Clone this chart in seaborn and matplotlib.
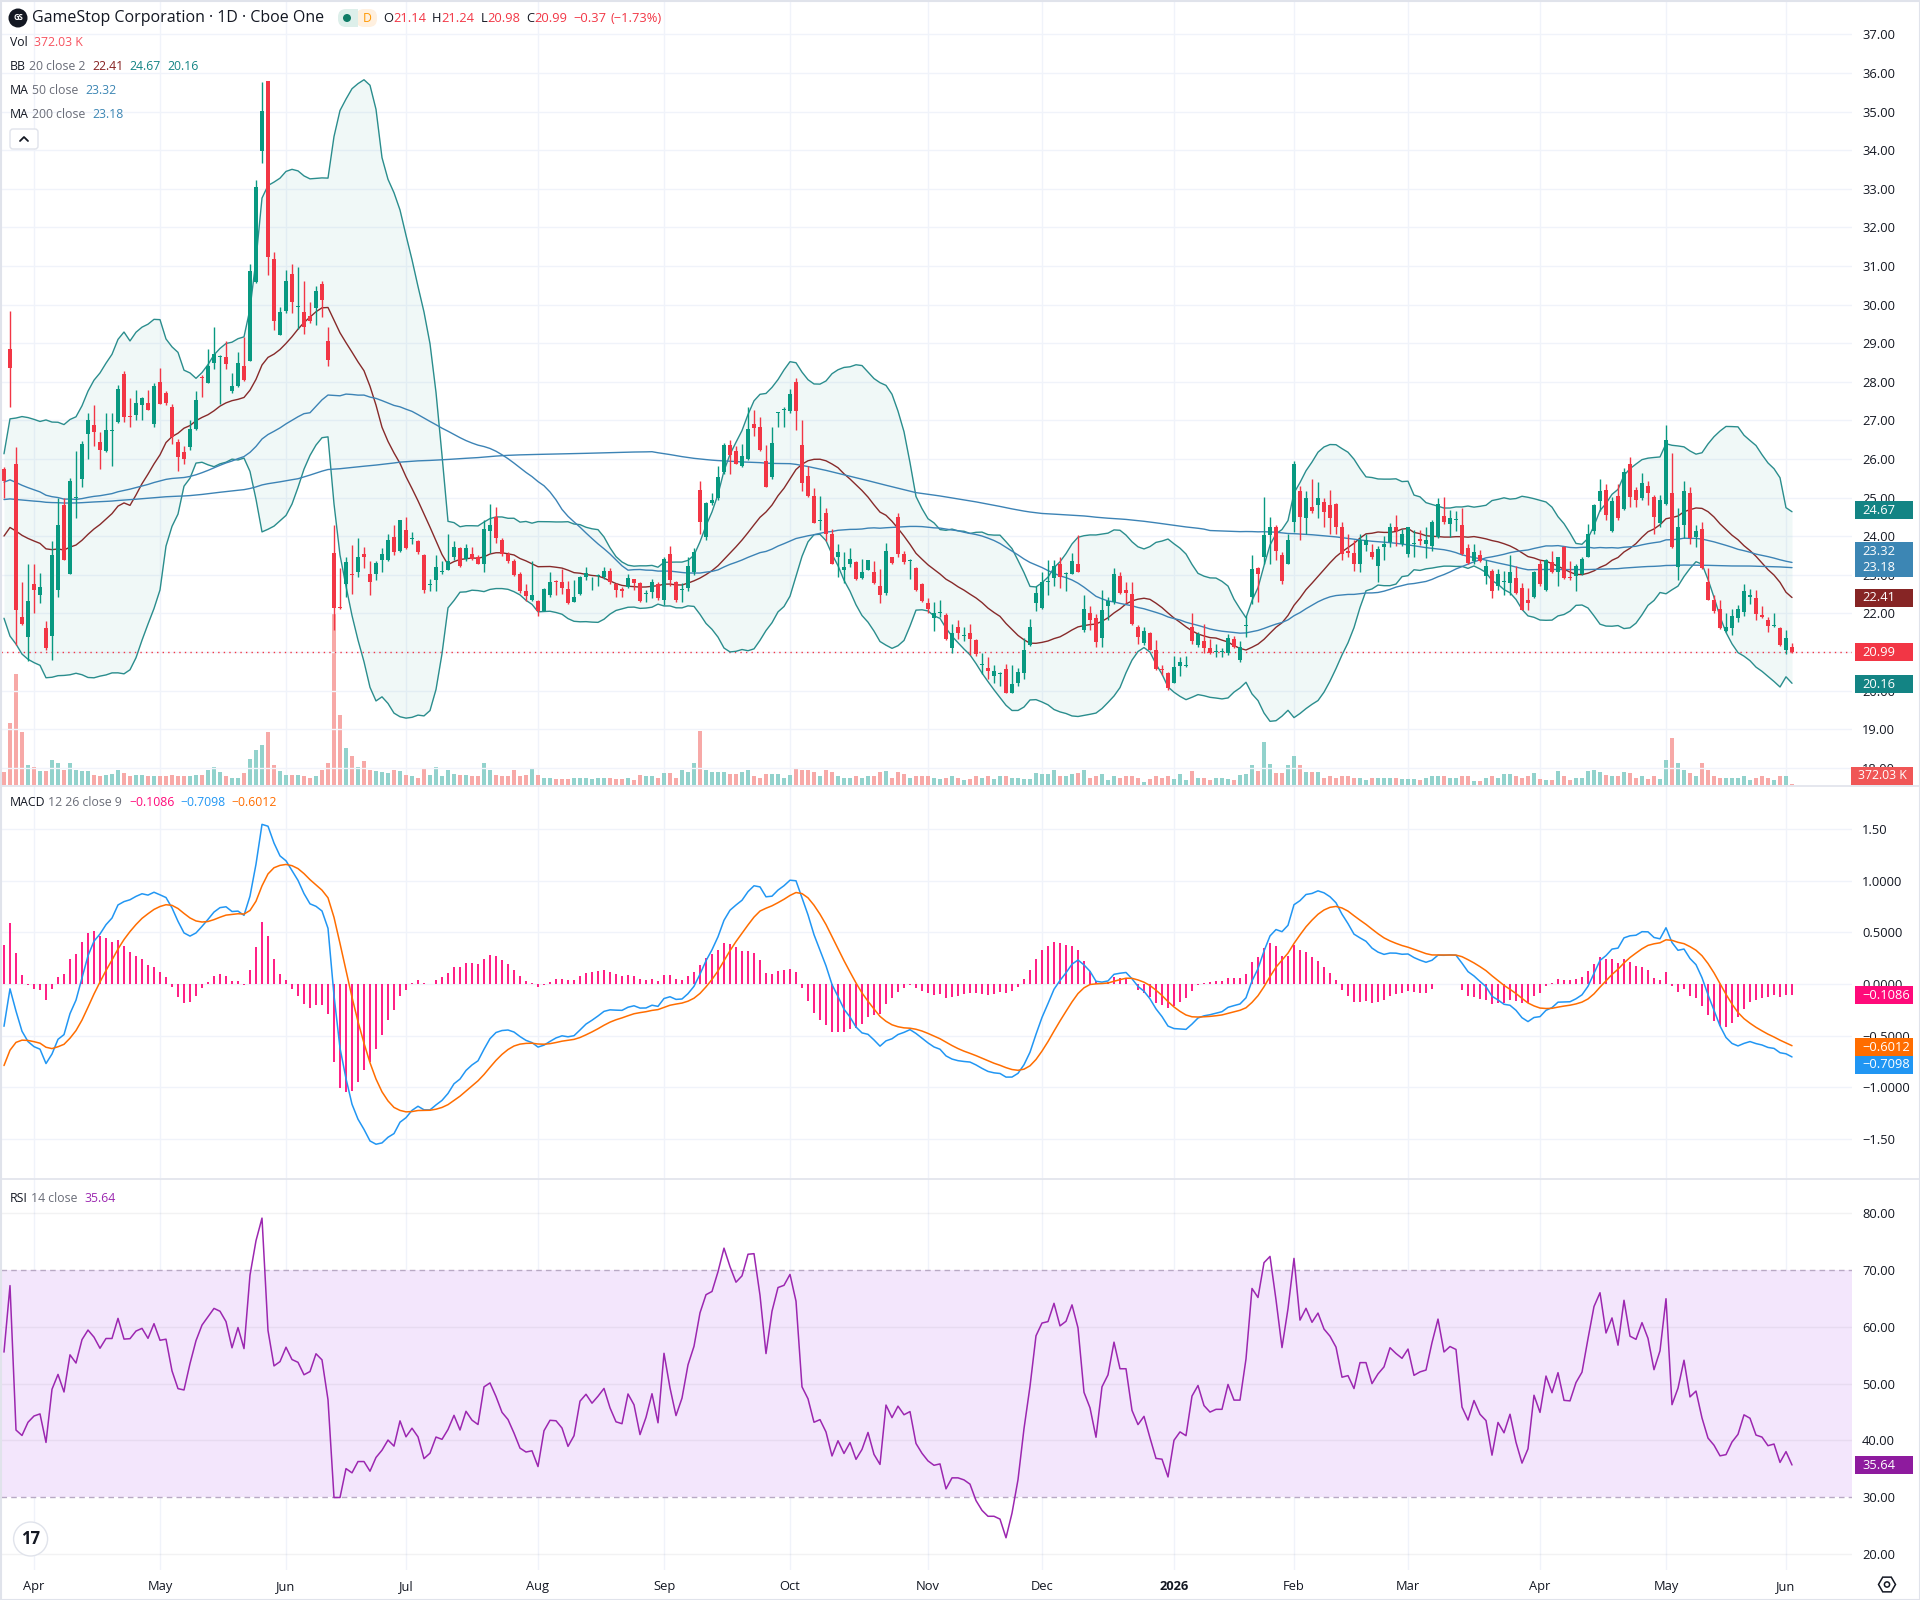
import numpy as np
import pandas as pd
import matplotlib
matplotlib.use("Agg")
import matplotlib.pyplot as plt
from matplotlib.patches import Rectangle, Circle, FancyBboxPatch, RegularPolygon
from matplotlib.lines import Line2D
from matplotlib.transforms import IdentityTransform
import seaborn as sns

# ---------------------------------------------------------------- data
# daily OHLC (GME, Cboe One), 2025-03-25 .. 2026-06-02
opens = [
    25.73, 28.84, 25.88, 21.90, 21.38, 22.76, 22.48, 21.61, 21.42, 22.60,
    24.80, 23.02, 25.00, 25.49, 26.66, 26.88, 26.43, 26.22, 26.72, 26.96,
    28.20, 27.12, 27.15, 27.40, 27.45, 26.90, 27.99, 27.72, 27.35, 26.43,
    26.18, 26.30, 26.78, 28.13, 27.98, 28.48, 28.63, 28.63, 27.76, 27.90,
    28.41, 28.54, 30.59, 33.99, 35.80, 31.18, 29.20, 29.83, 30.80, 29.93,
    29.80, 29.71, 29.92, 30.53, 29.05,
    23.57, 22.16, 22.76, 23.03, 23.08, 23.53, 23.02, 23.02, 23.39, 23.39,
    23.99, 23.63, 24.17, 23.93, 23.87, 23.51, 22.73, 22.87, 23.07, 23.12,
    23.45, 23.69, 23.41, 23.54, 23.47, 23.29, 24.14, 24.49, 23.89, 23.54,
    23.35, 23.02, 22.58, 22.34, 22.33, 22.06, 22.48, 22.84, 22.82, 22.64,
    22.30, 22.51, 22.94, 22.88, 22.98, 22.94, 23.11, 22.75, 22.64, 22.69,
    22.88, 22.78, 22.50,
    22.55, 22.75, 22.34, 23.53, 22.81, 22.60, 22.66, 23.08, 25.19, 23.99,
    24.86, 24.99, 25.67, 26.36, 26.22, 25.83, 26.00, 26.92, 26.84, 25.94,
    25.53, 27.20, 27.28, 27.24, 28.00, 26.36, 25.55, 25.04, 24.39, 24.59,
    24.07, 23.47, 23.12, 23.27, 23.33, 22.93, 23.12, 23.08, 22.70, 22.54,
    23.45, 24.51, 23.53, 23.37, 23.18, 22.76, 22.27, 21.88, 22.01, 21.96,
    21.10, 21.66, 21.42, 21.49,
    21.30, 20.66, 20.58, 20.37, 20.43, 20.55, 19.95, 20.19, 20.46, 21.18,
    22.27, 22.14, 22.82, 22.93, 23.27, 23.01, 23.02, 23.27, 21.58, 22.02,
    21.88, 21.37, 22.18, 22.30, 22.96, 22.60, 22.51, 21.66, 21.24, 21.49,
    21.04, 20.55, 20.46, 20.19, 20.65, 20.64, 21.66, 21.18, 21.28, 21.10,
    21.00, 21.01, 20.98, 21.34, 20.80, 21.68, 22.42, 23.17, 23.47, 24.02,
    24.25, 23.51, 23.29,
    24.37, 25.17, 24.47, 24.75, 24.81, 24.89, 24.80, 24.83, 24.23, 23.63,
    23.57, 23.27, 23.77, 23.59, 23.23, 23.71, 23.84, 24.23, 23.81, 23.54,
    23.79, 23.93, 23.81, 23.74, 23.99, 24.53, 24.31, 24.41, 24.29, 23.69,
    23.37, 23.51, 22.96, 23.11, 22.72, 22.81, 22.78, 22.93, 22.66, 22.36,
    22.42, 23.29, 22.60, 23.33, 23.08, 23.72, 22.94, 22.96, 23.02, 23.45,
    24.13, 24.92, 25.19,
    24.14, 25.04, 24.71, 25.86, 25.19, 24.99, 25.31, 25.01, 24.33, 24.83,
    25.13, 23.20, 24.29, 25.13, 23.99, 24.19, 22.81, 22.34, 22.12, 21.54,
    21.61, 21.88, 22.04, 22.42, 22.40, 21.96, 21.82, 21.68, 21.61, 21.04,
    21.14,
]
highs = [
    25.80, 29.83, 26.30, 22.82, 23.29, 23.27, 23.04, 21.80, 23.87, 25.00,
    25.00, 25.50, 26.20, 26.46, 27.20, 27.39, 26.70, 27.20, 27.18, 27.93,
    28.27, 27.57, 27.80, 27.60, 27.80, 27.96, 28.35, 27.75, 27.42, 26.52,
    26.34, 27.00, 27.75, 28.17, 28.84, 29.41, 28.69, 29.05, 28.24, 28.77,
    29.17, 31.04, 33.23, 35.76, 35.80, 31.37, 29.95, 30.89, 31.04, 30.98,
    30.61, 30.07, 30.49, 30.61, 29.41,
    24.29, 23.17, 23.47, 23.77, 23.95, 23.71, 23.35, 23.36, 23.69, 24.07,
    24.29, 24.41, 24.51, 24.11, 23.89, 23.53, 22.90, 23.51, 23.35, 24.07,
    23.87, 23.71, 23.81, 23.72, 23.51, 24.41, 24.83, 24.77, 23.95, 23.59,
    23.41, 23.08, 22.75, 23.35, 22.36, 22.66, 23.08, 22.87, 23.14, 22.84,
    22.87, 22.96, 23.20, 22.94, 23.02, 23.20, 23.18, 22.78, 22.69, 23.02,
    22.90, 22.82, 22.60,
    22.90, 22.82, 23.45, 23.75, 22.84, 22.78, 23.47, 23.69, 25.43, 24.89,
    25.13, 25.82, 26.42, 26.48, 26.34, 26.40, 27.36, 27.27, 27.08, 26.36,
    26.82, 27.22, 27.36, 27.81, 28.11, 27.00, 25.82, 25.25, 25.04, 24.73,
    24.19, 23.81, 23.60, 23.69, 23.35, 23.41, 23.39, 23.35, 23.14, 23.83,
    23.45, 24.59, 23.63, 23.42, 23.20, 22.78, 22.39, 22.30, 22.36, 22.00,
    21.73, 21.82, 21.64, 21.73,
    21.34, 20.98, 20.86, 20.67, 20.49, 20.70, 20.67, 20.58, 21.36, 21.86,
    22.72, 23.08, 23.38, 23.38, 23.47, 23.08, 23.57, 24.02, 22.48, 22.18,
    21.98, 22.60, 22.42, 23.18, 23.08, 22.82, 22.81, 21.69, 21.64, 21.52,
    21.30, 20.67, 20.48, 20.89, 20.86, 20.89, 22.02, 21.52, 21.73, 21.34,
    21.22, 21.10, 21.46, 21.42, 21.28, 21.94, 23.51, 23.20, 25.01, 24.51,
    24.29, 23.59, 24.05,
    25.95, 25.31, 25.17, 25.49, 25.41, 24.98, 25.19, 24.86, 24.37, 24.07,
    23.89, 24.05, 24.05, 23.81, 23.75, 24.01, 24.35, 24.55, 24.19, 24.25,
    24.17, 24.17, 24.23, 24.41, 24.99, 25.01, 24.69, 24.65, 24.73, 23.81,
    23.81, 23.65, 23.39, 23.14, 23.14, 23.11, 23.51, 23.23, 22.78, 22.66,
    23.11, 23.39, 23.41, 23.63, 23.47, 23.75, 23.36, 23.27, 23.45, 24.31,
    24.83, 25.49, 25.35,
    25.01, 25.35, 25.76, 26.04, 25.28, 25.65, 25.43, 25.07, 25.07, 26.88,
    26.15, 24.73, 25.43, 25.28, 24.29, 24.37, 23.18, 22.48, 22.36, 22.02,
    22.12, 22.22, 22.75, 22.63, 22.60, 22.18, 21.90, 22.00, 21.66, 21.58,
    21.24,
]
lows = [
    25.00, 27.36, 21.18, 21.70, 20.76, 22.00, 22.27, 21.06, 20.80, 22.42,
    23.39, 23.02, 24.47, 25.28, 26.00, 26.34, 25.73, 26.18, 25.82, 26.94,
    26.96, 26.84, 27.02, 27.00, 27.28, 26.82, 27.42, 27.40, 26.40, 25.70,
    25.86, 26.24, 26.76, 27.60, 27.98, 28.33, 27.42, 28.33, 27.72, 27.87,
    28.02, 28.53, 30.55, 33.66, 30.77, 29.35, 29.20, 29.77, 29.77, 29.37,
    29.25, 29.53, 29.47, 29.67, 28.42,
    21.58, 22.12, 22.42, 22.50, 22.94, 23.17, 22.48, 22.87, 23.08, 23.35,
    23.51, 23.59, 23.66, 23.81, 23.53, 22.54, 22.58, 22.57, 23.02, 23.12,
    23.39, 23.20, 23.35, 23.39, 23.27, 23.08, 23.57, 23.83, 23.50, 23.30,
    22.96, 22.54, 22.33, 22.33, 21.94, 22.06, 22.42, 22.48, 22.51, 22.24,
    22.30, 22.48, 22.87, 22.60, 22.70, 22.90, 22.75, 22.42, 22.42, 22.66,
    22.60, 22.30, 22.30,
    22.39, 22.36, 22.22, 22.72, 22.30, 22.30, 22.58, 22.99, 24.05, 23.90,
    24.80, 24.95, 25.61, 25.61, 25.86, 25.80, 25.98, 26.60, 26.22, 25.28,
    25.47, 26.82, 26.82, 27.18, 26.76, 25.16, 25.01, 24.33, 24.17, 23.87,
    23.27, 22.94, 22.78, 23.20, 22.87, 22.90, 23.12, 22.75, 22.27, 22.48,
    23.27, 23.47, 23.27, 22.90, 22.58, 22.30, 22.00, 21.54, 21.90, 21.30,
    20.98, 21.34, 21.28, 20.92,
    20.89, 20.43, 20.31, 20.19, 20.13, 19.93, 19.93, 20.13, 20.31, 21.16,
    22.06, 22.12, 22.48, 22.72, 22.66, 22.57, 23.02, 23.08, 21.52, 21.58,
    21.13, 21.13, 21.82, 22.24, 22.51, 22.27, 21.70, 21.22, 21.18, 21.04,
    20.53, 20.41, 20.01, 20.19, 20.37, 20.60, 21.22, 21.13, 20.98, 20.94,
    20.86, 20.86, 20.92, 21.10, 20.73, 21.40, 22.24, 22.30, 23.27, 23.27,
    23.39, 22.75, 23.27,
    24.11, 23.89, 24.05, 24.59, 24.47, 24.23, 24.05, 24.05, 23.39, 23.47,
    23.11, 23.08, 23.63, 23.41, 22.82, 23.39, 23.71, 23.75, 23.75, 23.45,
    23.47, 23.78, 23.44, 23.63, 23.95, 24.31, 23.99, 24.14, 23.51, 23.27,
    23.27, 23.33, 22.75, 22.39, 22.60, 22.48, 22.48, 22.51, 22.08, 22.08,
    22.39, 22.72, 22.57, 23.05, 22.72, 22.90, 22.87, 22.57, 22.99, 23.45,
    24.07, 24.65, 24.41,
    24.11, 24.41, 24.69, 24.77, 24.77, 24.93, 24.80, 24.05, 24.23, 24.80,
    23.69, 22.87, 23.95, 23.81, 23.72, 23.14, 22.34, 22.00, 21.59, 21.52,
    21.45, 21.78, 21.94, 22.24, 21.84, 21.88, 21.51, 21.66, 21.16, 20.94,
    20.98,
]
closes = [
    25.43, 28.36, 22.08, 21.72, 22.32, 22.60, 22.69, 21.10, 23.51, 24.29,
    23.39, 25.42, 25.02, 26.40, 27.00, 26.70, 26.24, 26.76, 26.76, 27.81,
    27.08, 27.10, 27.45, 27.57, 27.28, 27.88, 27.42, 27.46, 26.58, 26.04,
    26.00, 26.78, 27.54, 28.10, 28.41, 28.72, 28.66, 28.45, 27.90, 28.50,
    28.05, 30.88, 33.05, 35.01, 31.22, 29.57, 29.81, 30.61, 30.07, 29.95,
    29.43, 29.57, 30.35, 30.13, 28.57,
    22.14, 22.14, 23.33, 23.00, 23.45, 23.45, 22.82, 23.30, 23.55, 23.89,
    23.59, 24.41, 23.69, 23.96, 23.59, 22.60, 22.75, 23.19, 23.10, 23.35,
    23.71, 23.23, 23.69, 23.42, 23.29, 24.19, 24.29, 23.95, 23.54, 23.35,
    22.99, 22.57, 22.46, 22.48, 22.06, 22.64, 22.82, 22.81, 22.66, 22.27,
    22.42, 22.94, 23.05, 22.90, 23.00, 23.11, 22.82, 22.60, 22.57, 22.93,
    22.78, 22.33, 22.53,
    22.82, 22.39, 23.42, 22.87, 22.36, 22.64, 23.23, 23.60, 24.37, 24.86,
    24.95, 25.53, 26.36, 26.10, 25.88, 26.07, 26.78, 26.80, 26.24, 25.28,
    26.42, 27.22, 27.30, 27.69, 27.24, 25.37, 25.04, 24.35, 24.41, 24.05,
    23.29, 23.60, 23.20, 23.41, 22.90, 23.08, 23.39, 22.78, 22.48, 23.63,
    23.30, 23.54, 23.33, 23.39, 22.60, 22.33, 22.12, 22.00, 22.02, 21.34,
    21.49, 21.49, 21.44, 21.34,
    20.94, 20.68, 20.52, 20.52, 20.45, 19.95, 20.17, 20.49, 21.06, 21.64,
    22.54, 22.81, 22.84, 23.23, 22.94, 23.03, 23.36, 23.08, 22.12, 21.84,
    21.25, 22.10, 22.33, 23.02, 22.54, 22.54, 21.72, 21.40, 21.54, 21.06,
    20.55, 20.53, 20.07, 20.61, 20.74, 20.66, 21.28, 21.46, 21.10, 20.98,
    21.02, 21.02, 21.36, 21.13, 21.13, 21.70, 23.14, 23.02, 24.02, 24.23,
    23.63, 22.84, 23.89,
    25.86, 24.51, 24.98, 24.65, 24.99, 24.63, 24.47, 24.23, 23.53, 23.57,
    23.27, 23.89, 23.89, 23.45, 23.66, 23.81, 24.23, 24.13, 24.05, 24.23,
    23.81, 23.87, 23.90, 24.37, 24.83, 24.37, 24.47, 24.43, 23.54, 23.30,
    23.59, 23.35, 23.24, 22.57, 23.02, 22.82, 23.08, 22.54, 22.08, 22.27,
    23.08, 22.75, 23.39, 23.08, 23.45, 22.93, 22.92, 23.23, 23.41, 24.05,
    24.80, 25.17, 24.55,
    24.92, 24.47, 25.67, 25.01, 24.95, 25.39, 25.11, 24.51, 24.95, 26.48,
    23.72, 24.23, 25.17, 23.95, 24.14, 23.17, 22.36, 22.06, 21.61, 21.64,
    21.94, 22.12, 22.58, 22.48, 21.98, 21.92, 21.67, 21.70, 21.18, 21.36,
    20.99,
]
# volume, millions of shares
volume_m = [
    3.5, 16.6, 29.8, 14.1, 5.4, 4.8, 3.8, 3.8, 6.6, 5.8,
    3.9, 5.8, 3.9, 3.8, 3.8, 2.6, 2.5, 2.8, 2.9, 3.9,
    3.1, 2.3, 2.6, 2.6, 2.3, 2.5, 2.3, 2.3, 2.6, 2.3,
    2.3, 2.3, 2.8, 2.6, 3.9, 4.8, 3.5, 2.3, 1.9, 1.9,
    3.1, 6.9, 9.5, 10.8, 14.1, 5.4, 3.8, 2.6, 2.6, 2.6,
    2.3, 1.9, 2.3, 4.1, 5.8,
    46.0, 18.8, 10.0, 7.9, 4.8, 6.4, 4.1, 3.8, 3.5, 3.1,
    3.9, 3.8, 2.6, 2.3, 2.0, 4.4, 2.6, 4.8, 2.3, 3.9,
    2.9, 2.6, 2.6, 2.5, 2.5, 5.8, 4.1, 2.6, 2.3, 2.5,
    3.9, 2.3, 2.6, 4.5, 2.6, 1.9, 1.9, 1.6, 1.6, 1.6,
    1.9, 1.9, 1.9, 1.6, 1.9, 1.9, 1.9, 1.6, 1.6, 1.9,
    1.3, 2.6, 2.3,
    2.3, 2.0, 3.3, 3.3, 1.9, 3.9, 3.5, 6.0, 14.4, 4.1,
    3.5, 3.5, 3.5, 2.9, 2.9, 3.5, 3.9, 2.5, 1.9, 2.9,
    2.9, 2.9, 2.0, 2.6, 4.5, 3.9, 3.9, 3.5, 2.5, 3.9,
    3.5, 2.3, 1.9, 2.0, 2.3, 2.0, 2.3, 2.3, 3.5, 3.8,
    1.9, 3.5, 2.9, 2.0, 2.3, 2.3, 2.3, 1.9, 1.6, 1.9,
    2.3, 1.9, 1.3, 1.6,
    2.3, 1.9, 2.3, 1.6, 2.3, 2.3, 1.9, 1.9, 1.6, 1.6,
    3.1, 2.9, 2.9, 3.9, 2.3, 2.3, 2.9, 3.1, 3.9, 1.9,
    2.3, 2.9, 1.3, 2.3, 1.9, 2.5, 2.3, 1.9, 0.8, 1.6,
    2.3, 1.9, 2.3, 1.6, 2.9, 1.3, 3.8, 1.9, 1.9, 1.3,
    1.9, 1.9, 1.6, 1.3, 2.6, 2.9, 5.4, 3.8, 11.6, 5.6,
    3.1, 3.1, 5.4,
    7.9, 5.4, 3.5, 3.5, 3.5, 2.0, 2.3, 1.9, 2.5, 2.3,
    1.9, 2.0, 1.3, 2.0, 2.0, 2.0, 1.9, 1.9, 1.6, 1.6,
    1.6, 1.3, 1.9, 2.3, 2.5, 2.3, 2.0, 1.9, 2.3, 2.3,
    1.0, 1.0, 2.0, 2.5, 2.0, 2.9, 2.9, 2.5, 2.0, 2.5,
    3.1, 1.6, 1.3, 1.3, 3.8, 2.5, 1.3, 2.0, 2.0, 3.8,
    3.9, 3.5, 2.6,
    2.3, 2.3, 3.5, 3.1, 2.0, 2.3, 1.6, 2.5, 1.6, 6.6,
    12.5, 5.8, 3.9, 3.1, 2.3, 5.8, 4.1, 2.5, 2.0, 2.0,
    2.0, 1.9, 2.3, 1.3, 2.0, 2.3, 1.9, 1.4, 2.3, 2.5,
    0.37203,
]

START_DATE = "2025-03-25"
HOLIDAYS = ["2025-04-18", "2025-05-26", "2025-06-19", "2025-07-04", "2025-09-01",
            "2025-11-27", "2025-12-25", "2026-01-01", "2026-01-19", "2026-02-16",
            "2026-04-03", "2026-05-25"]

# closes before the window are not on the chart: block levels (and their day counts)
# estimated so that the 200-day average follows the MA 200 line shown
WARMUP_LEVELS = [25.00, 24.84, 20.07, 21.54, 22.00, 27.84, 30.88, 26.44, 24.79]
WARMUP_DAYS = [26, 23, 17, 23, 19, 23, 21, 21, 26]

# indicator state at the first bar
MA50_START = 25.40
BB_MID_START = 23.93
BB_STD_START = 1.04
EMA12_START = 24.19
EMA26_START = 24.60
SIGNAL_START = -0.79
RSI_GAIN_START = 0.35
RSI_LOSS_START = 0.28

# last values as printed in the legends
LAST_VOL = "372.03 K"
LAST_BB = ["22.41", "24.67", "20.16"]
LAST_MA50, LAST_MA200 = "23.32", "23.18"
LAST_MACD = ["\u22120.1086", "\u22120.7098", "\u22120.6012"]   # hist, macd, signal
LAST_RSI = "35.64"

# ---------------------------------------------------------------- colours
UP, DOWN = "#089981", "#F23645"
VOL_UP, VOL_DOWN = "#92D2CC", "#F7A9A7"
BB_BAND, BB_MID = "#2A8D8D", "#872A2A"
MA_COL = "#3C83B5"
MACD_COL, SIG_COL, HIST_COL = "#2196F3", "#FF6D00", "#FF0A7A"
RSI_COL = "#9C27B0"
TEXT, MUTED = "#131722", "#6A6D78"
GRID = "#F0F3FA"
BORDER = "#E0E3EB"

o, h, l, c = (np.array(v) for v in (opens, highs, lows, closes))
vol = np.array(volume_m)
n = len(c)
x = np.arange(n)


def padded_sma(values, window, seed):
    out = np.empty(len(values))
    for t in range(len(values)):
        chunk = values[max(0, t - window + 1):t + 1]
        out[t] = (chunk.sum() + (window - len(chunk)) * seed) / window
    return out


def padded_bbands(values, window, seed_mid, seed_std, k=2.0):
    mid = padded_sma(values, window, seed_mid)
    std = np.empty(len(values))
    for t in range(len(values)):
        chunk = values[max(0, t - window + 1):t + 1]
        miss = window - len(chunk)
        var = ((chunk - mid[t]) ** 2).sum() + miss * (seed_std ** 2 + (seed_mid - mid[t]) ** 2)
        std[t] = np.sqrt(var / window)
    return mid, mid + k * std, mid - k * std


def ema_from(values, period, start):
    out = np.empty(len(values))
    out[0] = start
    a = 2.0 / (period + 1)
    for t in range(1, len(values)):
        out[t] = out[t - 1] + a * (values[t] - out[t - 1])
    return out


def rsi_from(values, period, g0, l0):
    out = np.empty(len(values))
    g, lo = g0, l0
    out[0] = 100 - 100 / (1 + g / lo)
    for t in range(1, len(values)):
        d = values[t] - values[t - 1]
        g = (g * (period - 1) + max(d, 0)) / period
        lo = (lo * (period - 1) + max(-d, 0)) / period
        out[t] = 100 - 100 / (1 + g / lo)
    return out


history = np.repeat(WARMUP_LEVELS, WARMUP_DAYS)
ma200 = pd.Series(np.concatenate([history, c])).rolling(200).mean().to_numpy()[len(history):]
ma50 = padded_sma(c, 50, MA50_START)
bb_mid, bb_up, bb_lo = padded_bbands(c, 20, BB_MID_START, BB_STD_START)
ema12 = ema_from(c, 12, EMA12_START)
ema26 = ema_from(c, 26, EMA26_START)
macd = ema12 - ema26
signal = np.empty(n)
signal[0] = SIGNAL_START
for t in range(1, n):
    signal[t] = signal[t - 1] + 0.2 * (macd[t] - signal[t - 1])
hist = macd - signal
rsi = rsi_from(c, 14, RSI_GAIN_START, RSI_LOSS_START)

dates = pd.date_range(START_DATE, periods=n, freq=pd.offsets.CustomBusinessDay(holidays=HOLIDAYS))
month_pos = [i for i in range(1, n) if dates[i].month != dates[i - 1].month]
month_lab = [str(dates[i].year) if dates[i].month == 1 else dates[i].strftime("%b") for i in month_pos]

# ---------------------------------------------------------------- figure
sns.set_theme(style="white")
plt.rcParams["font.family"] = ["Open Sans", "DejaVu Sans"]
plt.rcParams["axes.unicode_minus"] = True

W, H = 1920, 1600
fig = plt.figure(figsize=(W / 100, H / 100), dpi=100)
fig.patch.set_facecolor("white")
PLOT_L, PLOT_R = 1, 1852
XLIM = (-0.5, 308.0)
LABEL_SIZE = 9.3


def rect(y0, y1):
    return [PLOT_L / W, 1 - y1 / H, (PLOT_R - PLOT_L) / W, (y1 - y0) / H]


ax_v = fig.add_axes(rect(0, 785))
ax_p = fig.add_axes(rect(0, 785), sharex=ax_v)
ax_m = fig.add_axes(rect(786, 1178), sharex=ax_v)
ax_r = fig.add_axes(rect(1179, 1570), sharex=ax_v)
ax_p.patch.set_alpha(0)

for ax in (ax_v, ax_p, ax_m, ax_r):
    for s in ax.spines.values():
        s.set_visible(False)
    ax.tick_params(axis="x", bottom=False, labelbottom=False, length=0)
    ax.set_xlim(*XLIM)
for ax in (ax_v, ax_m, ax_r):
    for p in month_pos:
        ax.axvline(p, color=GRID, lw=1, zorder=0)

# volume
ax_v.set_ylim(0, 210.8)
ax_v.set_yticks([])
ax_v.bar(x, vol, width=0.82, color=np.where(c >= o, VOL_UP, VOL_DOWN), linewidth=0, zorder=1)

# price
ax_p.set_ylim(17.556, 37.89)
price_ticks = np.arange(18, 38)
for v in price_ticks:
    ax_p.axhline(v, color=GRID, lw=1, zorder=0)
ax_p.yaxis.tick_right()
ax_p.set_yticks(price_ticks)
ax_p.set_yticklabels([f"{v:.2f}" for v in price_ticks])
ax_p.tick_params(axis="y", length=0, pad=7.2, labelsize=LABEL_SIZE, labelcolor=TEXT)

ax_p.fill_between(x, bb_lo, bb_up, color="#22A094", alpha=0.065, lw=0, zorder=1)
for series, col in ((bb_up, BB_BAND), (bb_lo, BB_BAND), (bb_mid, BB_MID), (ma50, MA_COL), (ma200, MA_COL)):
    sns.lineplot(x=x, y=series, ax=ax_p, color=col, linewidth=1.0, zorder=3)

cols = np.where(c >= o, UP, DOWN)
ax_p.vlines(x, l, h, colors=cols, lw=1.0, zorder=4)
ax_p.bar(x, np.maximum(np.abs(c - o), 0.025), bottom=np.minimum(o, c), width=0.66,
         color=cols, linewidth=0, zorder=5)
ax_p.axhline(c[-1], color=DOWN, lw=1, ls=(0, (1, 3)), zorder=2)

# MACD
ax_m.set_ylim(-1.879, 1.917)
macd_ticks = [1.5, 1.0, 0.5, 0.0, -0.5, -1.0, -1.5]
macd_labels = ["1.50", "1.0000", "0.5000", "0.0000", "\u22120.5000", "\u22121.0000", "\u22121.50"]
for v in macd_ticks:
    ax_m.axhline(v, color=GRID, lw=1, zorder=0)
ax_m.yaxis.tick_right()
ax_m.set_yticks(macd_ticks)
ax_m.set_yticklabels(macd_labels)
ax_m.tick_params(axis="y", length=0, pad=7.2, labelsize=LABEL_SIZE, labelcolor=TEXT)
ax_m.vlines(x, 0, hist, colors=HIST_COL, lw=1.3, zorder=2)
sns.lineplot(x=x, y=macd, ax=ax_m, color=MACD_COL, linewidth=1.1, zorder=3)
sns.lineplot(x=x, y=signal, ax=ax_m, color=SIG_COL, linewidth=1.1, zorder=3)

# RSI
ax_r.set_ylim(17.18, 86.04)
ax_r.axhspan(30, 70, color="#F3E6FC", lw=0, zorder=0)
rsi_ticks = np.arange(20, 90, 10)
for v in rsi_ticks:
    if v in (30, 70):
        ax_r.axhline(v, color="#B8A9C4", lw=1, ls=(0, (4, 3)), zorder=1)
    else:
        ax_r.axhline(v, color="#2A2E39", alpha=0.06, lw=1, zorder=1)
ax_r.yaxis.tick_right()
ax_r.set_yticks(rsi_ticks)
ax_r.set_yticklabels([f"{v:.2f}" for v in rsi_ticks])
ax_r.tick_params(axis="y", length=0, pad=7.2, labelsize=LABEL_SIZE, labelcolor=TEXT)
sns.lineplot(x=x, y=rsi, ax=ax_r, color=RSI_COL, linewidth=1.1, zorder=3)

ax_r.set_xticks(month_pos)
ax_r.set_xticklabels(month_lab)
ax_r.tick_params(axis="x", labelbottom=True, length=0, pad=7, labelsize=LABEL_SIZE, labelcolor=TEXT)
for lab in ax_r.get_xticklabels():
    if lab.get_text().isdigit():
        lab.set_fontweight("bold")

for ax in (ax_v, ax_p, ax_m, ax_r):
    ax.set_xlabel("")
    ax.set_ylabel("")

# ---------------------------------------------------------------- frame
ident = IdentityTransform()
for yy in (785.5, 1178.5):
    fig.add_artist(Line2D([0, W], [H - yy, H - yy], color=BORDER, lw=1.2, transform=ident))
fig.add_artist(Rectangle((0.5, 0.5), W - 1, H - 1, fill=False, ec=BORDER, lw=1.5, transform=ident))

# ---------------------------------------------------------------- right-hand value tags


def tag(ax, value, label, color, shift_px=0.0, draw_box=True, x0=1855, w=58, size=LABEL_SIZE):
    yd = ax.transData.transform((0, value))[1] + shift_px
    if draw_box:
        fig.add_artist(Rectangle((x0, yd - 9), w, 18, fc=color, ec="none", transform=ident))
    fig.text((x0 + 7) / W, yd / H, label, color="white", fontsize=size, ha="left", va="center")


tag(ax_p, float(LAST_BB[1]), LAST_BB[1], "#138484")
yb = ax_p.transData.transform((0, float(LAST_MA200)))[1]
fig.add_artist(Rectangle((1855, yb - 9), 58, 35, fc="#3C86B4", ec="none", transform=ident))
fig.text(1862 / W, (yb + 16) / H, LAST_MA50, color="white", fontsize=LABEL_SIZE, ha="left", va="center")
tag(ax_p, float(LAST_MA200), LAST_MA200, "#3C86B4", draw_box=False)
tag(ax_p, float(LAST_BB[0]), LAST_BB[0], "#862525")
tag(ax_p, c[-1], f"{c[-1]:.2f}", DOWN)
tag(ax_p, float(LAST_BB[2]), LAST_BB[2], "#138484")
tag(ax_p, 17.79, LAST_VOL, "#F05656", x0=1851, w=62, size=8.8)

tag(ax_m, -0.1086, LAST_MACD[0], HIST_COL)
tag(ax_m, -0.615, LAST_MACD[2], SIG_COL)
tag(ax_m, -0.78, LAST_MACD[1], MACD_COL)
tag(ax_r, float(LAST_RSI), LAST_RSI, "#8E1B9E")

# ---------------------------------------------------------------- legends / header
renderer = fig.canvas.get_renderer()


def row(x0, y, parts, size=8.8):
    xx = x0
    for txt, col, gap in parts:
        t = fig.text(xx / W, 1 - y / H, txt, color=col, fontsize=size, ha="left", va="center")
        xx += t.get_window_extent(renderer).width + gap
    return xx


def fmt(v, nd=2):
    return f"{v:.{nd}f}".replace("-", "\u2212")


fig.add_artist(Circle((18, H - 18), 9.5, fc="#131722", ec="none", transform=ident))
fig.text(18 / W, 1 - 18 / H, "GS", color="white", fontsize=5.5, fontweight="bold", ha="center", va="center")
row(32, 18.5, [("GameStop Corporation \u00b7 1D \u00b7 Cboe One", TEXT, 0)], size=11.5)
fig.add_artist(FancyBboxPatch((338, H - 27), 22, 18, boxstyle="round,pad=0,rounding_size=8",
                              fc="#DDEFEA", ec="none", transform=ident))
fig.add_artist(FancyBboxPatch((356, H - 27), 21, 18, boxstyle="round,pad=0,rounding_size=8",
                              fc="#FFF0DF", ec="none", transform=ident))
fig.add_artist(Rectangle((352, H - 27), 6, 18, fc="#DDEFEA", ec="none", transform=ident))
fig.add_artist(Circle((347, H - 18), 4, fc="#0E7C66", ec="none", transform=ident))
fig.text(367 / W, 1 - 18 / H, "D", color="#FF9800", fontsize=8.8, ha="center", va="center")

chg = c[-1] - c[-2]
row(383, 18.5, [("O", TEXT, 0), (fmt(o[-1]), DOWN, 6), ("H", TEXT, 0), (fmt(h[-1]), DOWN, 6),
                ("L", TEXT, 0), (fmt(l[-1]), DOWN, 6), ("C", TEXT, 0), (fmt(c[-1]), DOWN, 6),
                (fmt(chg), DOWN, 4), (f"({fmt(chg / c[-2] * 100)}%)", DOWN, 0)], size=9.3)

row(10, 42.5, [("Vol", TEXT, 6), (LAST_VOL, "#F7525F", 0)])
row(10, 67, [("BB", TEXT, 3), ("20 close 2", MUTED, 7), (LAST_BB[0], "#872323", 6),
             (LAST_BB[1], "#138484", 6), (LAST_BB[2], "#138484", 0)])
row(10, 91, [("MA", TEXT, 3), ("50 close", MUTED, 7), (LAST_MA50, "#3C86B4", 0)])
row(10, 114.5, [("MA", TEXT, 3), ("200 close", MUTED, 7), (LAST_MA200, "#3C86B4", 0)])
fig.add_artist(FancyBboxPatch((10, H - 149), 28, 20, boxstyle="round,pad=0,rounding_size=3",
                              fc="white", ec=BORDER, lw=1, transform=ident))
fig.add_artist(Line2D([20, 24, 28], [H - 141, H - 137, H - 141], color=TEXT, lw=1.3, transform=ident))

row(10, 803, [("MACD", TEXT, 3), ("12 26 close 9", MUTED, 7), (LAST_MACD[0], HIST_COL, 6),
              (LAST_MACD[1], MACD_COL, 6), (LAST_MACD[2], SIG_COL, 0)])
row(10, 1198, [("RSI", TEXT, 3), ("14 close", MUTED, 7), (LAST_RSI, RSI_COL, 0)])

# TradingView mark and settings icon
fig.add_artist(Circle((30.6, H - 1539), 17, fc="white", ec=BORDER, lw=1, transform=ident))
fig.text(30.6 / W, 1 - 1539 / H, "17", color=TEXT, fontsize=12, fontweight="bold", ha="center", va="center")
fig.add_artist(RegularPolygon((1887, H - 1584.5), 6, radius=8.5, orientation=np.pi / 6,
                              fill=False, ec=TEXT, lw=1.1, transform=ident))
fig.add_artist(Circle((1887, H - 1584.5), 2.6, fill=False, ec=TEXT, lw=1.1, transform=ident))

fig.savefig("out.png", dpi=100, facecolor="white")
